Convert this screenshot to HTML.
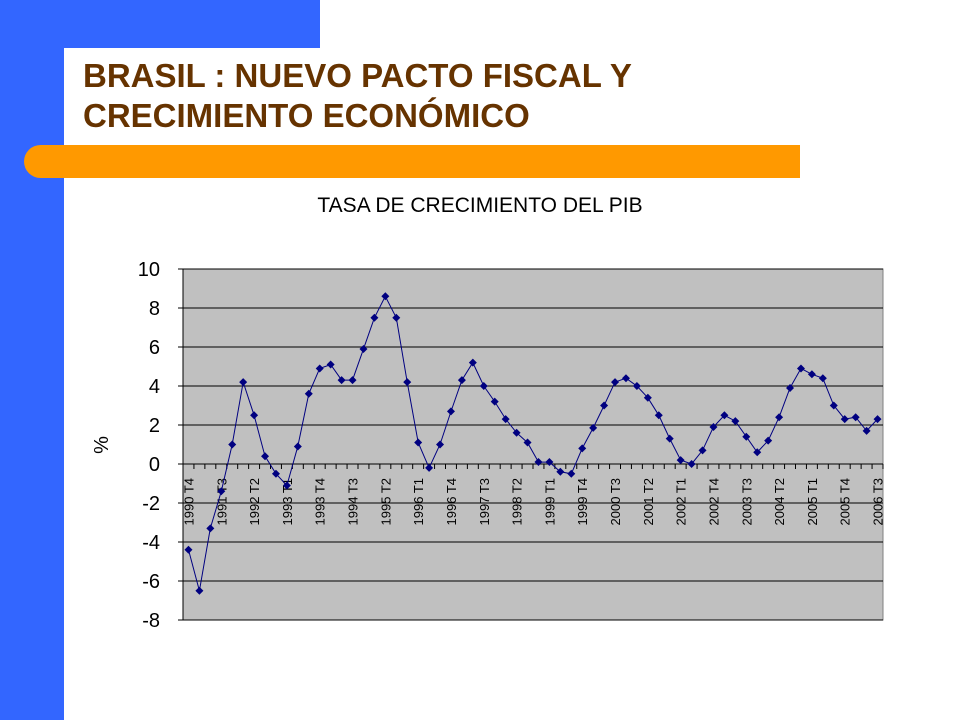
<!DOCTYPE html>
<html><head><meta charset="utf-8"><style>
body{margin:0;width:960px;height:720px;position:relative;overflow:hidden;background:#fff;font-family:"Liberation Sans",Arial,sans-serif}
.abs{position:absolute}
</style></head><body>
<div class="abs" style="left:0;top:0;width:320px;height:48px;background:#3366ff"></div>
<div class="abs" style="left:0;top:0;width:64px;height:720px;background:#3366ff"></div>
<div class="abs" style="left:64px;top:48px;width:896px;height:672px;background:#fff;border-top-left-radius:32px"></div>
<div class="abs" style="left:83px;top:56px;color:#663300;font-weight:bold;font-size:33px;line-height:40px">BRASIL : NUEVO PACTO FISCAL Y<br>CRECIMIENTO ECONÓMICO</div>
<div class="abs" style="left:24px;top:145px;width:776px;height:33px;background:#ff9900;border-radius:17px 0 0 17px"></div>
<svg class="abs" style="left:0;top:0" width="960" height="720">
<text x="480" y="212" text-anchor="middle" font-size="21" font-family="Liberation Sans, sans-serif">TASA DE CRECIMIENTO DEL PIB</text>
<text transform="translate(108,445) rotate(-90)" text-anchor="middle" font-size="20" font-family="Liberation Sans, sans-serif">%</text>
<g id="plot"></g>
</svg>
<script>
const values=[-4.4,-6.5,-3.3,-1.4,1.0,4.2,2.5,0.4,-0.5,-1.1,0.9,3.6,4.9,5.1,4.3,4.3,5.9,7.5,8.6,7.5,4.2,1.1,-0.2,1.0,2.7,4.3,5.2,4.0,3.2,2.3,1.6,1.1,0.1,0.1,-0.4,-0.5,0.8,1.85,3.0,4.2,4.4,4.0,3.4,2.5,1.3,0.2,0.0,0.7,1.9,2.5,2.2,1.4,0.6,1.2,2.4,3.9,4.9,4.6,4.4,3.0,2.3,2.4,1.7,2.3];
const yTicks=[10,8,6,4,2,0,-2,-4,-6,-8];
const startYear=1990, startQ=4;
const NS="http://www.w3.org/2000/svg";
const X0=183,X1=883,Y0=269,Y1=620,YMAX=10,YMIN=-8;
const n=values.length, step=(X1-X0)/n;
const xs=i=>X0+step*(i+0.5);
const ys=v=>Y0+(YMAX-v)/(YMAX-YMIN)*(Y1-Y0);
const g=document.getElementById('plot');
function mk(t,a){const e=document.createElementNS(NS,t);for(const k in a)e.setAttribute(k,a[k]);g.appendChild(e);return e;}
const bg=mk('rect',{x:X0,y:Y0,width:X1-X0,height:Y1-Y0,fill:'#c0c0c0',stroke:'#808080','stroke-width':1});


yTicks.forEach(t=>{
  const y=ys(t);
  const l=mk('line',{x1:X0-5,x2:X1,y1:y,y2:y,stroke:'#000','stroke-width':1});
  
  
  const tx=mk('text',{x:160,y:y+7,'text-anchor':'end','font-size':20,'font-family':'Liberation Sans, sans-serif'});
  tx.textContent=String(t);
  
  
});
const ax=mk('line',{x1:X0,x2:X0,y1:Y0,y2:Y1,stroke:'#000','stroke-width':1});


const y0=ys(0);
for(let i=0;i<=n;i++){
  const x=X0+step*i;
  const tk=mk('line',{x1:x,x2:x,y1:y0,y2:y0+5,stroke:'#000','stroke-width':1});
  
  
}
for(let i=0;i<n;i+=3){
  const q=startQ-1+i, yr=startYear+Math.floor(q/4), qq=q%4+1;
  const x=xs(i)+5;
  const tx=mk('text',{transform:`translate(${x},${y0+14}) rotate(-90)`,'text-anchor':'end','font-size':13,'font-family':'Liberation Sans, sans-serif'});
  tx.textContent=yr+' T'+qq;
  
  
}
const pts=values.map((v,i)=>xs(i).toFixed(1)+','+ys(v).toFixed(1)).join(' ');
const pl=mk('polyline',{points:pts,fill:'none',stroke:'#000080','stroke-width':1});


values.forEach((v,i)=>{
  const x=xs(i),y=ys(v);
  const m=mk('polygon',{points:`${x},${y-4} ${x+4},${y} ${x},${y+4} ${x-4},${y}`,fill:'#000080'});
  
  
});
</script>
</body></html>
